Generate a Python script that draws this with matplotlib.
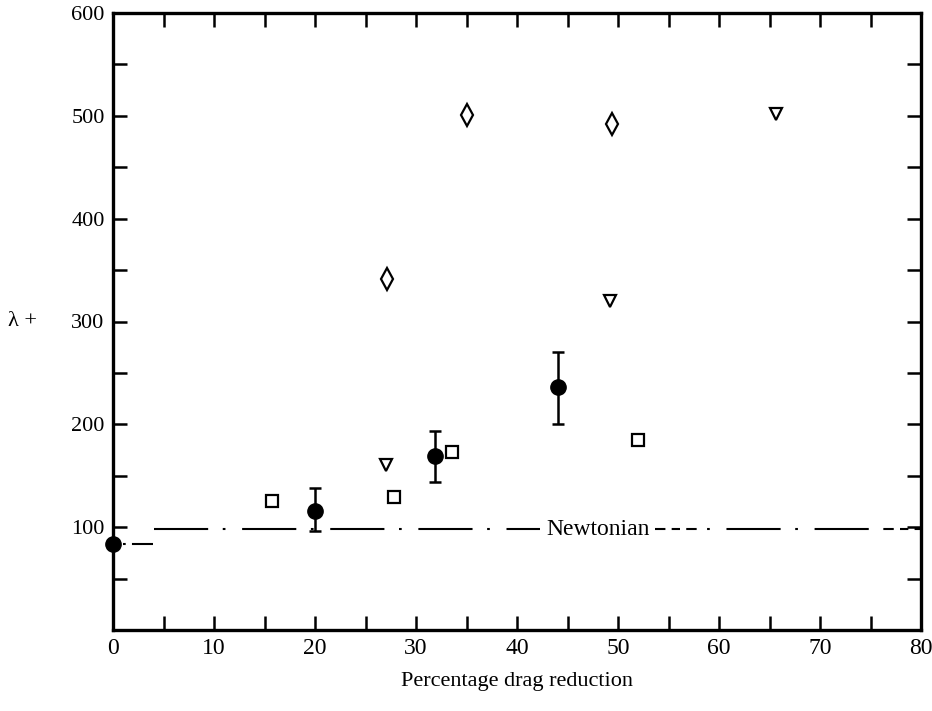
import matplotlib.pyplot as plt
from matplotlib.ticker import MultipleLocator, FixedLocator

plt.rcParams["font.family"] = ["Liberation Serif", "DejaVu Serif"]

# filled circles with error bars
circ_x = [0, 20, 31.9, 44.1]
circ_y = [84, 116, 169, 236]
circ_lo = [84, 96, 144, 200]
circ_hi = [84, 138, 194, 270]

# open squares
sq_x = [15.7, 27.8, 33.6, 52.0]
sq_y = [125, 129, 173, 185]

# open down triangles
tri_x = [27.0, 49.2, 65.6]
tri_y = [160, 320, 502]

# open diamonds
dia_x = [27.1, 35.0, 49.4]
dia_y = [341, 501, 492]

# Newtonian reference
newt_y = 98
newt_left_y = 84

fig = plt.figure(figsize=(9.32, 7.11), dpi=100)
ax = fig.add_axes([113 / 932, 1 - 630 / 711, 808 / 932, 617 / 711])

ax.set_xlim(0, 80)
ax.set_ylim(0, 600)

# Newtonian line, broken for the label
dash = (0, (26, 7, 1.3, 8))
ax.plot([1.0, 4.0], [newt_left_y, newt_left_y], color="black", lw=1.5,
        linestyle=(0, (1.3, 3, 12, 50)), clip_on=False)
ax.plot([4.1, 42.3], [newt_y, newt_y], color="black", lw=1.5, linestyle=dash)
ax.plot([53.7, 80], [newt_y, newt_y], color="black", lw=1.5,
        linestyle=(0, (5, 3, 4, 3, 5, 5, 1.3, 8, 26, 7, 1.3, 8, 26, 7)))
ax.text(48.0, newt_y, "Newtonian", ha="center", va="center", fontsize=17)

yerr = [[y - lo for y, lo in zip(circ_y, circ_lo)],
        [hi - y for y, hi in zip(circ_y, circ_hi)]]
ax.errorbar(circ_x, circ_y, yerr=yerr, fmt="o", color="black", ms=11,
            elinewidth=1.8, capsize=4, capthick=1.8, clip_on=False, zorder=3)

ax.plot(sq_x, sq_y, "s", ms=8.5, mfc="white", mec="black", mew=1.6)
ax.plot(tri_x, tri_y, "v", ms=9, mfc="white", mec="black", mew=1.6)
ax.plot(dia_x, dia_y, "d", ms=11, mfc="white", mec="black", mew=1.6)

for s in ax.spines.values():
    s.set_linewidth(2.4)

ax.xaxis.set_major_locator(MultipleLocator(10))
ax.xaxis.set_minor_locator(MultipleLocator(5))
ax.yaxis.set_major_locator(FixedLocator([100, 200, 300, 400, 500, 600]))
ax.yaxis.set_minor_locator(MultipleLocator(50))
ax.tick_params(which="both", direction="in", top=True, right=True,
               width=1.8, length=10, labelsize=16)
ax.tick_params(axis="x", pad=6, labelsize=17)
ax.tick_params(axis="y", pad=6)

ax.set_xlabel("Percentage drag reduction", fontsize=16, labelpad=9)
fig.text(22 / 932, 1 - 321 / 711, "λ +", fontsize=16, ha="center", va="center")

fig.savefig("out.png", dpi=100)
